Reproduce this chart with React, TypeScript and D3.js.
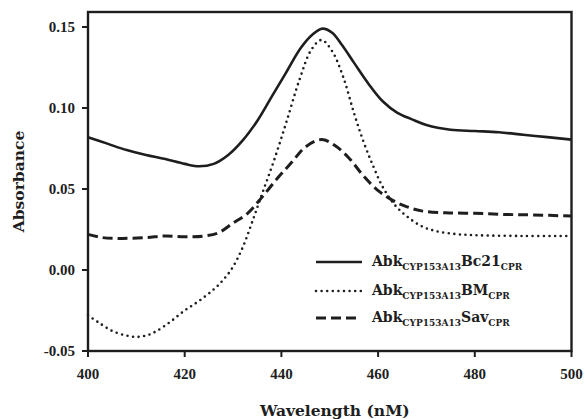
import React from "react";
import * as d3 from "d3";

// Wavelength (nm) and absorbance samples for each spectrum
const bc21Wl = [400, 404, 408, 412, 416, 420, 423, 426, 429, 432, 435, 438, 441, 444, 446.5, 448.5, 450.5, 452.5, 455, 458, 461, 464, 467, 470, 475, 480, 485, 490, 495, 500];
const bc21Abs = [0.082, 0.078, 0.074, 0.071, 0.0685, 0.0655, 0.064, 0.0655, 0.071, 0.08, 0.092, 0.107, 0.122, 0.137, 0.1455, 0.149, 0.1465, 0.139, 0.128, 0.115, 0.104, 0.097, 0.093, 0.0895, 0.0866, 0.0858, 0.085, 0.0835, 0.082, 0.0805];

const bmWl = [400, 402, 405, 408, 410, 412, 414, 417, 420, 423, 426, 428, 430, 432, 434, 436, 438.4, 441, 443.8, 446.2, 448.3, 450.5, 452.8, 455, 457, 459, 461, 463.5, 466, 469, 472, 476, 480, 490, 500];
const bmAbs = [-0.028, -0.032, -0.0376, -0.0405, -0.0413, -0.0405, -0.038, -0.032, -0.025, -0.019, -0.012, -0.006, 0.002, 0.014, 0.03, 0.047, 0.067, 0.091, 0.118, 0.136, 0.142, 0.135, 0.119, 0.097, 0.079, 0.064, 0.051, 0.04, 0.033, 0.027, 0.024, 0.0222, 0.0215, 0.021, 0.021];

const savWl = [400, 403, 407, 412, 416, 420, 424, 427, 430, 433, 436, 439, 442, 445, 448.3, 451, 454, 457, 460, 463, 466, 469, 474, 480, 486, 492, 500];
const savAbs = [0.022, 0.02, 0.0195, 0.02, 0.021, 0.0205, 0.021, 0.023, 0.029, 0.035, 0.045, 0.056, 0.066, 0.076, 0.0805, 0.077, 0.069, 0.058, 0.049, 0.043, 0.039, 0.0365, 0.0353, 0.035, 0.0343, 0.034, 0.0333];

const xTicks = [400, 420, 440, 460, 480, 500];
const yTicks = [-0.05, 0.0, 0.05, 0.1, 0.15];

const legendNames = ["Bc21", "BM", "Sav"];
const legendSub = "CYP153A13";

const W = 585;
const H = 419;
const left = 88;
const right = 571.5;
const top = 12;
const bottom = 351;

const ink = "#1e1e1e";
const tickFont = "'Liberation Serif', 'Times New Roman', serif";
const titleFont = "'DejaVu Serif', serif";

export default function App() {
  const x = d3.scaleLinear().domain([400, 500]).range([left, right]);
  const y = d3.scaleLinear().domain([-0.05, 0.15]).range([bottom, 27]);

  const line = d3
    .line<[number, number]>()
    .x((d) => x(d[0]))
    .y((d) => y(d[1]))
    .curve(d3.curveCatmullRom.alpha(0.5));

  const series = [
    { name: legendNames[0], pts: bc21Wl.map((w, i) => [w, bc21Abs[i]] as [number, number]), width: 2.6, dash: undefined as string | undefined, cap: "butt" },
    { name: legendNames[1], pts: bmWl.map((w, i) => [w, bmAbs[i]] as [number, number]), width: 2.6, dash: "0 5.6", cap: "round" },
    { name: legendNames[2], pts: savWl.map((w, i) => [w, savAbs[i]] as [number, number]), width: 3, dash: "10 5", cap: "butt" },
  ];

  const legendX = 316;
  const legendRows = [262, 291, 318];

  return (
    <svg
      width={W}
      height={H}
      style={{ position: "absolute", left: 0, top: 0, background: "#fff" }}
    >
      {/* plot frame */}
      <rect x={left} y={top} width={right - left} height={bottom - top} fill="none" stroke={ink} strokeWidth={2.4} />

      {/* y ticks */}
      {yTicks.map((t) => (
        <g key={"y" + t}>
          <line x1={left - 6} x2={left} y1={y(t)} y2={y(t)} stroke={ink} strokeWidth={2} />
          <text
            x={left - 13}
            y={y(t) + 5}
            textAnchor="end"
            fontFamily={tickFont}
            fontWeight="bold"
            fontSize={15}
            fill={ink}
          >
            {t.toFixed(2)}
          </text>
        </g>
      ))}

      {/* x ticks */}
      {xTicks.map((t) => (
        <g key={"x" + t}>
          <line x1={x(t)} x2={x(t)} y1={bottom} y2={bottom + 6} stroke={ink} strokeWidth={2} />
          <text
            x={x(t)}
            y={379}
            textAnchor="middle"
            fontFamily={tickFont}
            fontWeight="bold"
            fontSize={15}
            fill={ink}
          >
            {t}
          </text>
        </g>
      ))}

      {/* axis titles */}
      <text
        transform={`translate(24, ${(top + bottom) / 2}) rotate(-90)`}
        textAnchor="middle"
        fontFamily={titleFont}
        fontWeight="bold"
        fontSize={15.5}
        fill={ink}
      >
        Absorbance
      </text>
      <text
        x={(left + right) / 2 + 5}
        y={416}
        textAnchor="middle"
        fontFamily={titleFont}
        fontWeight="bold"
        fontSize={15.5}
        fill={ink}
      >
        Wavelength (nM)
      </text>

      {/* spectra */}
      {series.map((s) => (
        <path
          key={s.name}
          d={line(s.pts) || ""}
          fill="none"
          stroke={ink}
          strokeWidth={s.width}
          strokeDasharray={s.dash}
          strokeLinecap={s.cap as any}
          strokeLinejoin="round"
        />
      ))}

      {/* legend */}
      {series.map((s, i) => (
        <g key={"lg" + s.name}>
          <line
            x1={legendX}
            x2={i === 2 ? legendX + 40 : legendX + 46}
            y1={legendRows[i]}
            y2={legendRows[i]}
            stroke={ink}
            strokeWidth={s.width}
            strokeDasharray={s.dash}
            strokeLinecap={s.cap as any}
          />
          <text
            x={372}
            y={legendRows[i] + 4}
            fontFamily={titleFont}
            fontWeight="bold"
            fontSize={14}
            fill={ink}
          >
            Abk
            <tspan fontSize={9} dy={4}>{legendSub}</tspan>
            <tspan dy={-4}>{s.name}</tspan>
            <tspan fontSize={9} dy={4}>CPR</tspan>
          </text>
        </g>
      ))}
    </svg>
  );
}
